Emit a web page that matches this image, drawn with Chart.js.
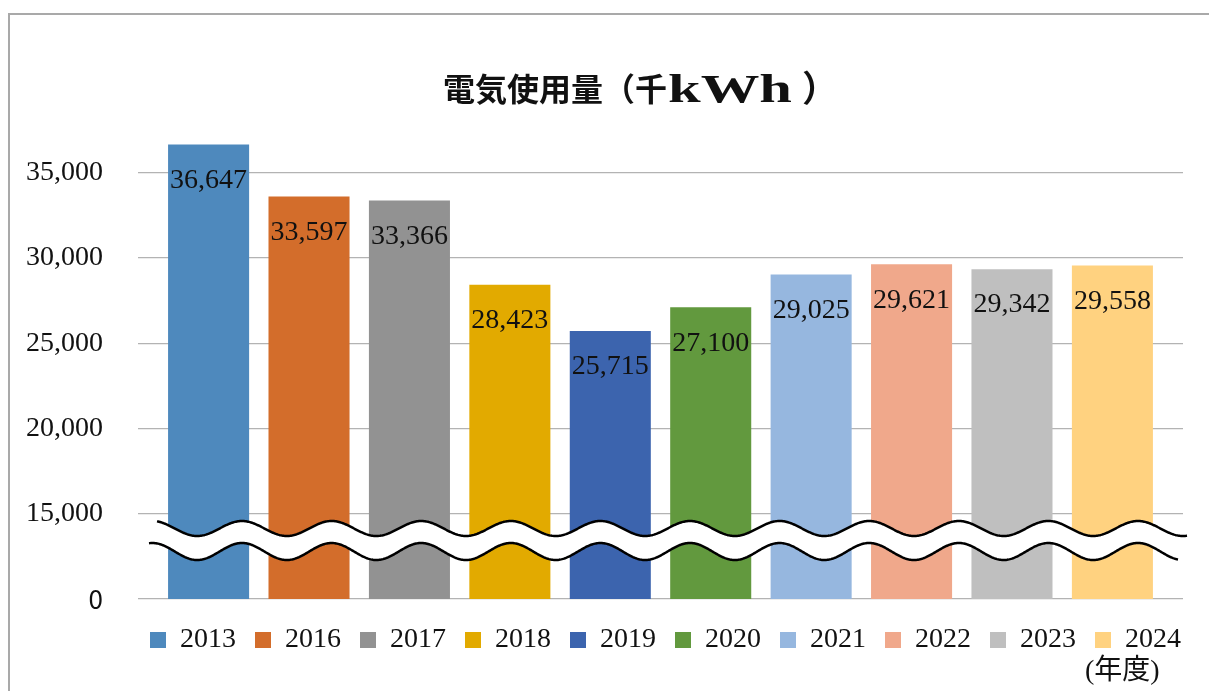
<!DOCTYPE html>
<html lang="ja">
<head>
<meta charset="utf-8">
<title>電気使用量（千kWh）</title>
<script src="https://cdn.jsdelivr.net/npm/chart.js@4.4.1/dist/chart.umd.min.js"></script>
<style>
    html, body { margin: 0; padding: 0; background: #ffffff; overflow: hidden; }
    .frame {
        position: absolute; left: 8px; top: 13px;
        width: 1260px; height: 720px;
        border-left: 2px solid #a9a9a9; border-top: 2px solid #a9a9a9;
    }
    .chart-box { position: absolute; left: 0; top: 0; width: 1209px; height: 691px; }
    canvas { display: block; }
</style>
</head>
<body>
<div class="frame"></div>
<div class="chart-box"><canvas id="chart"></canvas></div>
<script>
// 年度ごとの電気使用量（千kWh）
const years = ['2013', '2016', '2017', '2018', '2019', '2020', '2021', '2022', '2023', '2024'];
const usage = [36647, 33597, 33366, 28423, 25715, 27100, 29025, 29621, 29342, 29558];
const barColors = ['#4e89bd', '#d36d2b', '#929292', '#e2aa00', '#3c64ae',
                   '#62993e', '#96b7df', '#f0a88b', '#bfbfbf', '#ffd280'];

// 軸は波線で省略されている：目盛「0」は 10,000 の位置に置かれている
const yTickValues = [10000, 15000, 20000, 25000, 30000, 35000];
const yTickLabels = ['0', '15,000', '20,000', '25,000', '30,000', '35,000'];
const axisMin = 10000;
const axisMax = 37500;
const breakUpper = 14134; // 波線（上）の中心
const breakLower = 12785; // 波線（下）の中心

const SERIF = '"Liberation Serif", "Noto Sans CJK JP", serif';
const fmt = (v) => v.toLocaleString('en-US');

const breakAndLabels = {
    id: 'breakAndLabels',
    afterDatasetsDraw(chart) {
        const { ctx, chartArea, scales: { y } } = chart;
        const period = 89.6, peakX = chartArea.left + 104;
        const wave = (x, c, a) => c - a * Math.cos(2 * Math.PI * (x - peakX) / period);
        const cu = y.getPixelForValue(breakUpper), cl = y.getPixelForValue(breakLower);
        const u0 = chartArea.left + 19, u1 = chartArea.right + 4;
        const l0 = chartArea.left + 11, l1 = chartArea.right - 5;

        ctx.save();
        // 白い帯
        ctx.beginPath();
        for (let x = u0; x <= u1; x++) ctx.lineTo(x, wave(x, cu, 7.5));
        for (let x = l1; x >= l0; x--) ctx.lineTo(x, wave(x, cl, 8.5));
        ctx.closePath();
        ctx.fillStyle = '#ffffff';
        ctx.fill();
        // 波線
        ctx.strokeStyle = '#000000';
        ctx.lineWidth = 2.5;
        ctx.beginPath();
        for (let x = u0; x <= u1; x++) ctx.lineTo(x, wave(x, cu, 7.5));
        ctx.stroke();
        ctx.beginPath();
        for (let x = l0; x <= l1; x++) ctx.lineTo(x, wave(x, cl, 8.5));
        ctx.stroke();

        // 値ラベル
        ctx.font = '28px ' + SERIF;
        ctx.fillStyle = '#111111';
        ctx.textAlign = 'center';
        ctx.textBaseline = 'middle';
        chart.data.datasets.forEach((ds, i) => {
            const bar = chart.getDatasetMeta(i).data[0];
            ctx.fillText(fmt(ds.data[0]), bar.x, bar.y + 36);
        });
        ctx.restore();
    },
    afterDraw(chart) {
        const { ctx } = chart;
        ctx.save();
        ctx.fillStyle = '#111111';
        // タイトル
        const x0 = 443;
        ctx.font = 'bold 32px "Noto Sans CJK JP"';
        ctx.textBaseline = 'middle';
        ctx.textAlign = 'left';
        const part1 = '電気使用量（千';
        ctx.fillText(part1, x0, 89);
        const w1 = ctx.measureText(part1).width;
        ctx.font = 'bold 39px "Liberation Serif"';
        ctx.textBaseline = 'alphabetic';
        const wk = ctx.measureText('kWh').width;
        ctx.save();
        ctx.translate(x0 + w1 + 1, 102);
        ctx.scale(124 / wk, 1);
        ctx.fillText('kWh', 0, 0);
        ctx.restore();
        ctx.font = 'bold 36px "Noto Sans CJK JP"';
        ctx.textBaseline = 'middle';
        ctx.fillText('）', x0 + w1 + 135, 88);
        // 単位
        ctx.font = '28px ' + SERIF;
        ctx.fillText('(年度)', 1085, 672);
        ctx.restore();
    },
    afterLayout(chart) {
        // 凡例を図の位置まで右へ寄せる
        chart.legend.left += 61;
        chart.legend.right += 61;
    }
};

new Chart(document.getElementById('chart').getContext('2d'), {
    type: 'bar',
    data: {
        labels: [''],
        datasets: years.map((yr, i) => ({
            label: yr,
            data: [usage[i]],
            backgroundColor: barColors[i],
            borderWidth: 0,
            categoryPercentage: 0.961,
            barPercentage: 0.807
        }))
    },
    options: {
        responsive: true,
        maintainAspectRatio: false,
        animation: false,
        layout: { padding: { top: 130, left: 26, right: 26, bottom: 27 } },
        plugins: {
            title: { display: false },
            tooltip: { enabled: false },
            legend: {
                position: 'bottom',
                labels: {
                    boxWidth: 16,
                    boxHeight: 16,
                    padding: 19,
                    color: '#111111',
                    font: { family: SERIF, size: 28 }
                }
            }
        },
        scales: {
            x: {
                display: true,
                ticks: { display: false },
                grid: { drawOnChartArea: false, drawTicks: true, tickLength: 8, color: 'transparent' },
                border: { display: false }
            },
            y: {
                min: axisMin,
                max: axisMax,
                afterBuildTicks: (scale) => { scale.ticks = yTickValues.map(v => ({ value: v })); },
                afterFit: (scale) => { scale.width = 112; },
                ticks: {
                    padding: 35,
                    color: '#111111',
                    callback: (value, index) => yTickLabels[index],
                    font: (ctx) => ctx.index === 0
                        ? { family: '"Noto Sans CJK JP"', size: 26 }
                        : { family: SERIF, size: 28 }
                },
                grid: { color: '#b3b3b3', lineWidth: 1.3, drawTicks: false },
                border: { display: false }
            }
        }
    },
    plugins: [breakAndLabels]
});
</script>
</body>
</html>
